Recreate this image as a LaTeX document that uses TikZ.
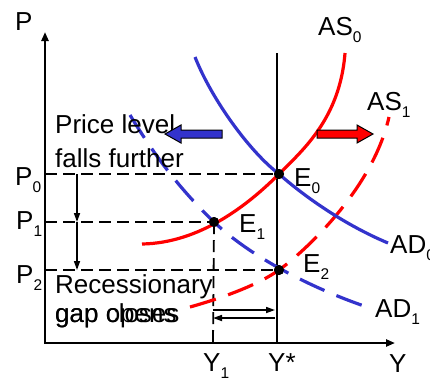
\documentclass[tikz,border=0pt]{standalone}
\usepackage{fontspec}
\setmainfont{Liberation Sans}
\usetikzlibrary{arrows.meta}
\definecolor{adblue}{RGB}{51,51,204}
\definecolor{asred}{RGB}{255,0,0}
\newcommand{\lowsub}[1]{\raisebox{-7pt}{\fontsize{15.5}{15.5}\selectfont #1}}
\begin{document}
\begin{tikzpicture}[x=1pt,y=-1pt,
  lbl/.style={anchor=base west, inner sep=0pt, font=\fontsize{26}{30}\selectfont},
  axisline/.style={line width=2.8pt, {Triangle[length=9pt,width=7pt]}-{Triangle[length=9pt,width=7pt]}},
  guide/.style={line width=1.8pt, dash pattern=on 12pt off 6pt},
  curve/.style={line width=3.2pt},
  dcurve/.style={line width=3.2pt, dash pattern=on 27pt off 13pt},
  dot/.style={circle, fill=black, inner sep=0pt, minimum size=10pt},
  small/.style={line width=1.6pt, -{Triangle[length=9pt,width=6pt]}},
  block/.style={draw=black, line width=1pt}]
\useasboundingbox (0,0) rectangle (430,381);

% named points
\coordinate (ptop) at (45,32);
\coordinate (orig) at (45,343);
\coordinate (yend) at (395,343);
\coordinate (ys top) at (277,53);
\coordinate (ys bot) at (277,343);
\coordinate (p0) at (45,174);
\coordinate (p1) at (45,222);
\coordinate (p2) at (45,270);
\coordinate (y1) at (213,343);
\coordinate (a0) at (77,174);
\coordinate (a1) at (77,222);
\coordinate (a2) at (77,270);
\coordinate (g1a) at (213,310);
\coordinate (g1b) at (275,310);
\coordinate (g2a) at (275,318);
\coordinate (g2b) at (213,318);

\node[dot] (E0) at (279,174) {};
\node[dot] (E1) at (214,222) {};
\node[dot] (E2) at (279,270) {};

% guides
\draw[guide] (p0) -- (E0.center);
\draw[guide] (p1) -- (E1.center);
\draw[guide] (p2) -- (E2.center);
\draw[guide] (E1.center) -- (y1);

% axes
\draw[axisline] (ptop) -- (orig) -- (yend);
\draw[line width=2.8pt] (ys top) -- (ys bot);

% small arrows
\draw[small] (a0) -- (a1);
\draw[small] (a1) -- (a2);
\draw[small] (g1a) -- (g1b);
\draw[small] (g2a) -- (g2b);

% curves
\draw[curve, asred] (142,244) .. controls (200,243) and (248,205) .. (E0.center)
  .. controls (303,150) and (340,118) .. (345,53);
\draw[dcurve, asred] (190,307) .. controls (222,298) and (258,285) .. (E2.center)
  .. controls (300,255) and (372,192) .. (389,117);
\draw[curve, adblue] (195,57) .. controls (212,100) and (250,152) .. (E0.center)
  .. controls (305,197) and (345,225) .. (388,243);
\draw[dcurve, adblue] (130,115) .. controls (159,163) and (185,194) .. (E1.center)
  .. controls (254,260) and (320,291.5) .. (370,308);

\node[dot] at (E0.center) {};
\node[dot] at (E1.center) {};
\node[dot] at (E2.center) {};

% labels
\node[lbl] (lP) at (15,30) {P};
\node[lbl] (lY) at (389,372) {Y};
\node[lbl] (lP0) at (15,185) {P\lowsub{0}};
\node[lbl] (lP1) at (16,229) {P\lowsub{1}};
\node[lbl] (lP2) at (16,283) {P\lowsub{2}};
\node[lbl] (lY1) at (203,371) {Y\lowsub{1}};
\node[lbl] (lYs) at (268,371) {Y*};
\node[lbl] (lAS0) at (318,35) {AS\lowsub{0}};
\node[lbl] (lAS1) at (367,110) {AS\lowsub{1}};
\node[lbl] (lAD0) at (390,253) {AD\lowsub{0}};
\node[lbl] (lAD1) at (375,317) {AD\lowsub{1}};
\node[lbl] (lE0) at (294,186) {E\lowsub{0}};
\node[lbl] (lE1) at (239,232) {E\lowsub{1}};
\node[lbl] (lE2) at (303,272) {E\lowsub{2}};
\node[lbl] (t1) at (55,133) {Price level};
\node[lbl] (t2) at (55,167) {falls further};
\node[lbl] (t3) at (55,293) {Recessionary};
\node[lbl] (t4) at (55,322) {gap closes};
\node[lbl] (t5) at (55,322) {gap opens};

% block arrows
\filldraw[block, fill=adblue] (222,130) -- (181,130) -- (181,125) -- (165,134) -- (181,143) -- (181,138) -- (222,138) -- cycle;
\filldraw[block, fill=asred] (317,130) -- (357,130) -- (357,125) -- (373,134) -- (357,143) -- (357,138) -- (317,138) -- cycle;
\end{tikzpicture}
\end{document}
